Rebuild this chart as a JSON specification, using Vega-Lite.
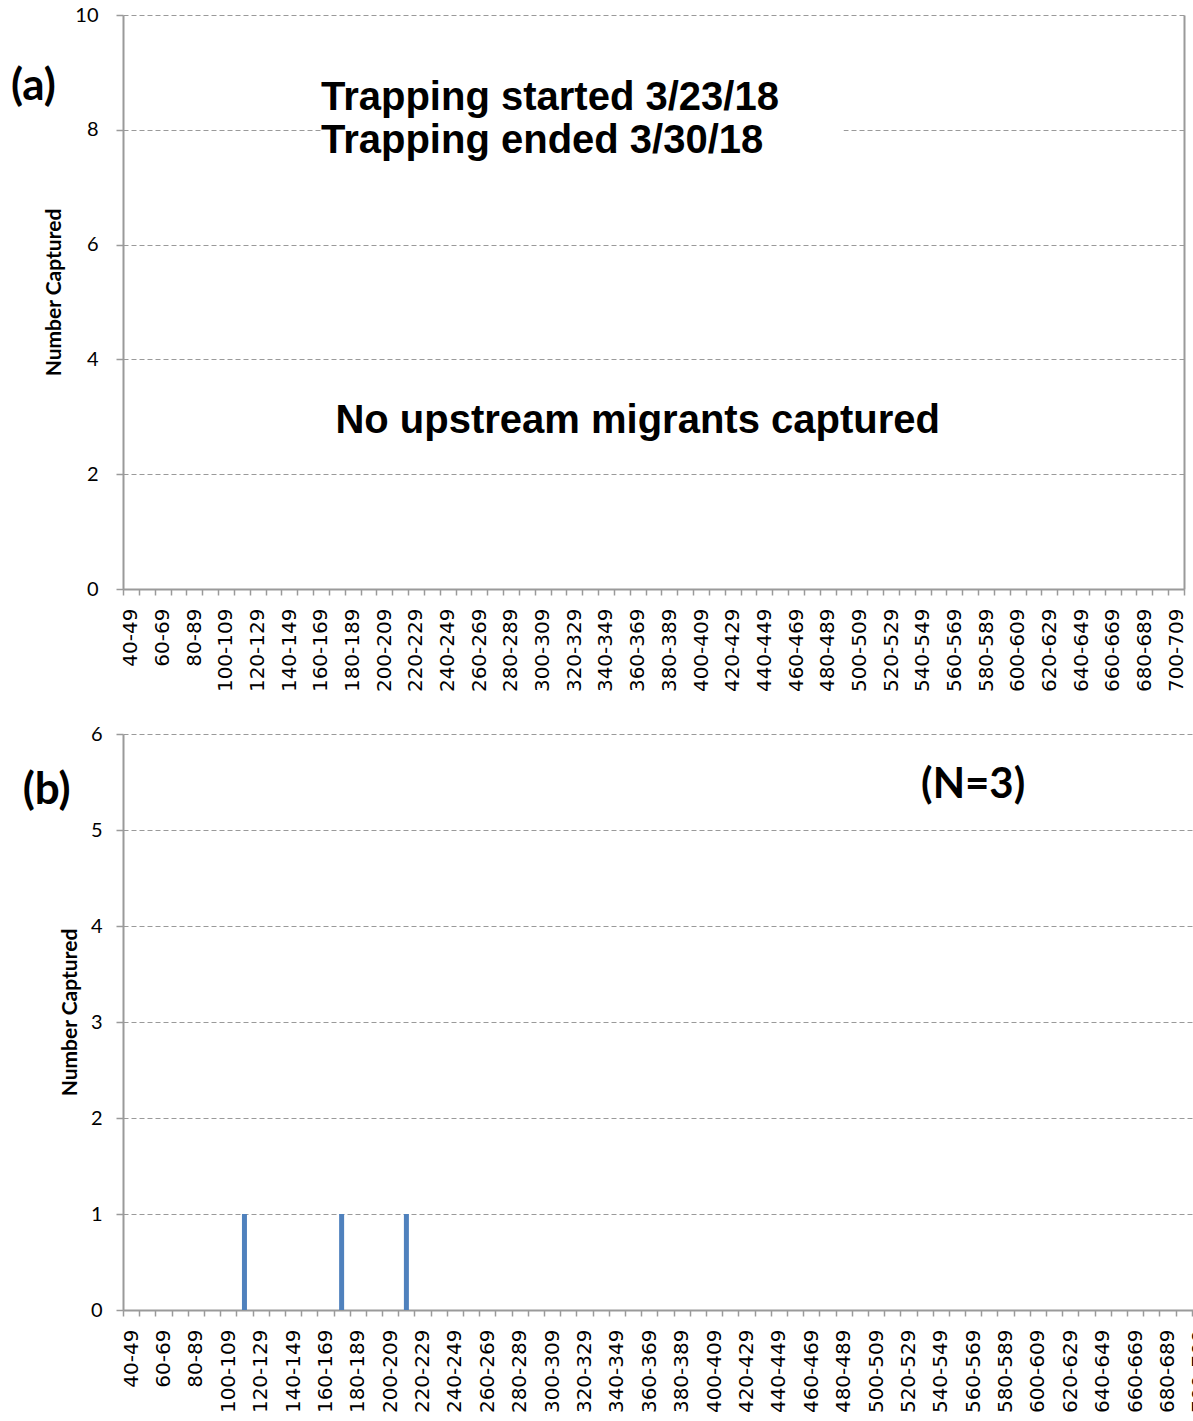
{
  "$schema": "https://vega.github.io/schema/vega-lite/v6.json",
  "background": "white",
  "padding": {"left": 10, "top": 5, "right": 0, "bottom": 0},
  "spacing": 32,
  "datasets": {
    "bins": [
      {"bin": "40-49", "a": 0, "b": 0}, {"bin": "50-59", "a": 0, "b": 0}, {"bin": "60-69", "a": 0, "b": 0}, {"bin": "70-79", "a": 0, "b": 0},
      {"bin": "80-89", "a": 0, "b": 0}, {"bin": "90-99", "a": 0, "b": 0}, {"bin": "100-109", "a": 0, "b": 0}, {"bin": "110-119", "a": 0, "b": 1},
      {"bin": "120-129", "a": 0, "b": 0}, {"bin": "130-139", "a": 0, "b": 0}, {"bin": "140-149", "a": 0, "b": 0}, {"bin": "150-159", "a": 0, "b": 0},
      {"bin": "160-169", "a": 0, "b": 0}, {"bin": "170-179", "a": 0, "b": 1}, {"bin": "180-189", "a": 0, "b": 0}, {"bin": "190-199", "a": 0, "b": 0},
      {"bin": "200-209", "a": 0, "b": 0}, {"bin": "210-219", "a": 0, "b": 1}, {"bin": "220-229", "a": 0, "b": 0}, {"bin": "230-239", "a": 0, "b": 0},
      {"bin": "240-249", "a": 0, "b": 0}, {"bin": "250-259", "a": 0, "b": 0}, {"bin": "260-269", "a": 0, "b": 0}, {"bin": "270-279", "a": 0, "b": 0},
      {"bin": "280-289", "a": 0, "b": 0}, {"bin": "290-299", "a": 0, "b": 0}, {"bin": "300-309", "a": 0, "b": 0}, {"bin": "310-319", "a": 0, "b": 0},
      {"bin": "320-329", "a": 0, "b": 0}, {"bin": "330-339", "a": 0, "b": 0}, {"bin": "340-349", "a": 0, "b": 0}, {"bin": "350-359", "a": 0, "b": 0},
      {"bin": "360-369", "a": 0, "b": 0}, {"bin": "370-379", "a": 0, "b": 0}, {"bin": "380-389", "a": 0, "b": 0}, {"bin": "390-399", "a": 0, "b": 0},
      {"bin": "400-409", "a": 0, "b": 0}, {"bin": "410-419", "a": 0, "b": 0}, {"bin": "420-429", "a": 0, "b": 0}, {"bin": "430-439", "a": 0, "b": 0},
      {"bin": "440-449", "a": 0, "b": 0}, {"bin": "450-459", "a": 0, "b": 0}, {"bin": "460-469", "a": 0, "b": 0}, {"bin": "470-479", "a": 0, "b": 0},
      {"bin": "480-489", "a": 0, "b": 0}, {"bin": "490-499", "a": 0, "b": 0}, {"bin": "500-509", "a": 0, "b": 0}, {"bin": "510-519", "a": 0, "b": 0},
      {"bin": "520-529", "a": 0, "b": 0}, {"bin": "530-539", "a": 0, "b": 0}, {"bin": "540-549", "a": 0, "b": 0}, {"bin": "550-559", "a": 0, "b": 0},
      {"bin": "560-569", "a": 0, "b": 0}, {"bin": "570-579", "a": 0, "b": 0}, {"bin": "580-589", "a": 0, "b": 0}, {"bin": "590-599", "a": 0, "b": 0},
      {"bin": "600-609", "a": 0, "b": 0}, {"bin": "610-619", "a": 0, "b": 0}, {"bin": "620-629", "a": 0, "b": 0}, {"bin": "630-639", "a": 0, "b": 0},
      {"bin": "640-649", "a": 0, "b": 0}, {"bin": "650-659", "a": 0, "b": 0}, {"bin": "660-669", "a": 0, "b": 0}, {"bin": "670-679", "a": 0, "b": 0},
      {"bin": "680-689", "a": 0, "b": 0}, {"bin": "690-699", "a": 0, "b": 0}, {"bin": "700-709", "a": 0, "b": 0}
    ]
  },
  "config": {
    "view": {"stroke": null},
    "axis": {
      "domainColor": "#9a9a9a", "domainWidth": 2, "tickColor": "#9a9a9a", "tickWidth": 1.5,
      "labelColor": "black", "titleColor": "black",
      "gridColor": "#9a9a9a", "gridDash": [5, 3], "gridWidth": 1
    },
    "axisX": {
      "tickBand": "extent", "labelAngle": 270, "labelFont": "DejaVu Sans", "labelFontSize": 20,
      "labelPadding": 13, "tickSize": 6, "grid": false, "title": null,
      "labelOverlap": false, "labelBound": false, "labelFlush": false
    },
    "axisY": {
      "labelFont": "Lato", "labelFontSize": 20, "tickSize": 7,
      "titleFont": "Lato", "titleFontSize": 21, "titleFontWeight": "bold"
    }
  },
  "vconcat": [
    {
      "width": 1061,
      "height": 574,
      "title": {"text": "(a)", "orient": "left", "angle": 0, "anchor": "end", "align": "right", "baseline": "middle",
                "font": "Lato", "fontSize": 44, "fontWeight": "bold", "color": "black", "offset": -12, "dx": 45, "dy": 82},
      "layer": [
        {
          "data": {"name": "bins"},
          "mark": {"type": "bar", "size": 5, "color": "#4f81bd"},
          "encoding": {
            "x": {"field": "bin", "type": "ordinal",
                  "scale": {"paddingInner": 0, "paddingOuter": 0, "domain": ["40-49","50-59","60-69","70-79","80-89","90-99","100-109","110-119","120-129","130-139","140-149","150-159","160-169","170-179","180-189","190-199","200-209","210-219","220-229","230-239","240-249","250-259","260-269","270-279","280-289","290-299","300-309","310-319","320-329","330-339","340-349","350-359","360-369","370-379","380-389","390-399","400-409","410-419","420-429","430-439","440-449","450-459","460-469","470-479","480-489","490-499","500-509","510-519","520-529","530-539","540-549","550-559","560-569","570-579","580-589","590-599","600-609","610-619","620-629","630-639","640-649","650-659","660-669","670-679","680-689","690-699","700-709"]},
                  "axis": {"labelExpr": "parseInt(datum.value) % 20 === 0 ? datum.value : ''"}},
            "y": {"field": "a", "type": "quantitative", "scale": {"domain": [0, 10], "nice": false},
                  "axis": {"values": [0, 2, 4, 6, 8, 10], "format": "d", "title": "Number Captured", "labelPadding": 18, "titlePadding": 10, "titleY": 277, "grid": true}}
          }
        },
        {
          "data": {"values": [{"bin": "160-169", "bin2": "490-499", "lo": 7.85, "hi": 8.15}]},
          "mark": {"type": "rect", "color": "white"},
          "encoding": {
            "x": {"field": "bin", "type": "ordinal"},
            "x2": {"field": "bin2"},
            "y": {"field": "lo", "type": "quantitative", "axis": null},
            "y2": {"field": "hi"}
          }
        },
        {
          "data": {"values": [
            {"bin": "160-169", "val": 8.56, "label": "Trapping started 3/23/18"},
            {"bin": "160-169", "val": 7.81, "label": "Trapping ended 3/30/18"}
          ]},
          "mark": {"type": "text", "align": "left", "baseline": "middle", "font": "Liberation Sans", "fontWeight": "bold", "fontSize": 40, "color": "black"},
          "encoding": {
            "x": {"field": "bin", "type": "ordinal"},
            "y": {"field": "val", "type": "quantitative", "axis": null},
            "text": {"field": "label"}
          }
        },
        {
          "data": {"values": [{"bin": "360-369", "val": 2.93, "label": "No upstream migrants captured"}]},
          "mark": {"type": "text", "align": "center", "baseline": "middle", "font": "Liberation Sans", "fontWeight": "bold", "fontSize": 40, "color": "black"},
          "encoding": {
            "x": {"field": "bin", "type": "ordinal"},
            "y": {"field": "val", "type": "quantitative",
                  "axis": {"orient": "right", "labels": false, "ticks": false, "grid": false, "title": null, "domain": true}},
            "text": {"field": "label"}
          }
        }
      ],
      "resolve": {"axis": {"y": "independent"}}
    },
    {
      "width": 1085,
      "height": 576,
      "title": {"text": "(b)", "orient": "left", "angle": 0, "anchor": "end", "align": "right", "baseline": "middle",
                "font": "Lato", "fontSize": 44, "fontWeight": "bold", "color": "black", "offset": -13, "dx": 46, "dy": 67},
      "layer": [
        {
          "data": {"name": "bins"},
          "mark": {"type": "bar", "size": 5, "color": "#4f81bd"},
          "encoding": {
            "x": {"field": "bin", "type": "ordinal",
                  "scale": {"paddingInner": 0, "paddingOuter": 0, "domain": ["40-49","50-59","60-69","70-79","80-89","90-99","100-109","110-119","120-129","130-139","140-149","150-159","160-169","170-179","180-189","190-199","200-209","210-219","220-229","230-239","240-249","250-259","260-269","270-279","280-289","290-299","300-309","310-319","320-329","330-339","340-349","350-359","360-369","370-379","380-389","390-399","400-409","410-419","420-429","430-439","440-449","450-459","460-469","470-479","480-489","490-499","500-509","510-519","520-529","530-539","540-549","550-559","560-569","570-579","580-589","590-599","600-609","610-619","620-629","630-639","640-649","650-659","660-669","670-679","680-689","690-699","700-709"]},
                  "axis": {"labelExpr": "parseInt(datum.value) % 20 === 0 ? datum.value : ''"}},
            "y": {"field": "b", "type": "quantitative", "scale": {"domain": [0, 6], "nice": false},
                  "axis": {"values": [0, 1, 2, 3, 4, 5, 6], "format": "d", "title": "Number Captured", "labelPadding": 14, "titlePadding": 10, "titleY": 278, "grid": true}}
          }
        },
        {
          "data": {"values": [{"bin": "560-569", "val": 5.47, "label": "(N=3)"}]},
          "mark": {"type": "text", "align": "center", "baseline": "middle", "font": "Lato", "fontWeight": "bold", "fontSize": 42, "color": "black"},
          "encoding": {
            "x": {"field": "bin", "type": "ordinal"},
            "y": {"field": "val", "type": "quantitative"},
            "text": {"field": "label"}
          }
        }
      ]
    }
  ]
}
